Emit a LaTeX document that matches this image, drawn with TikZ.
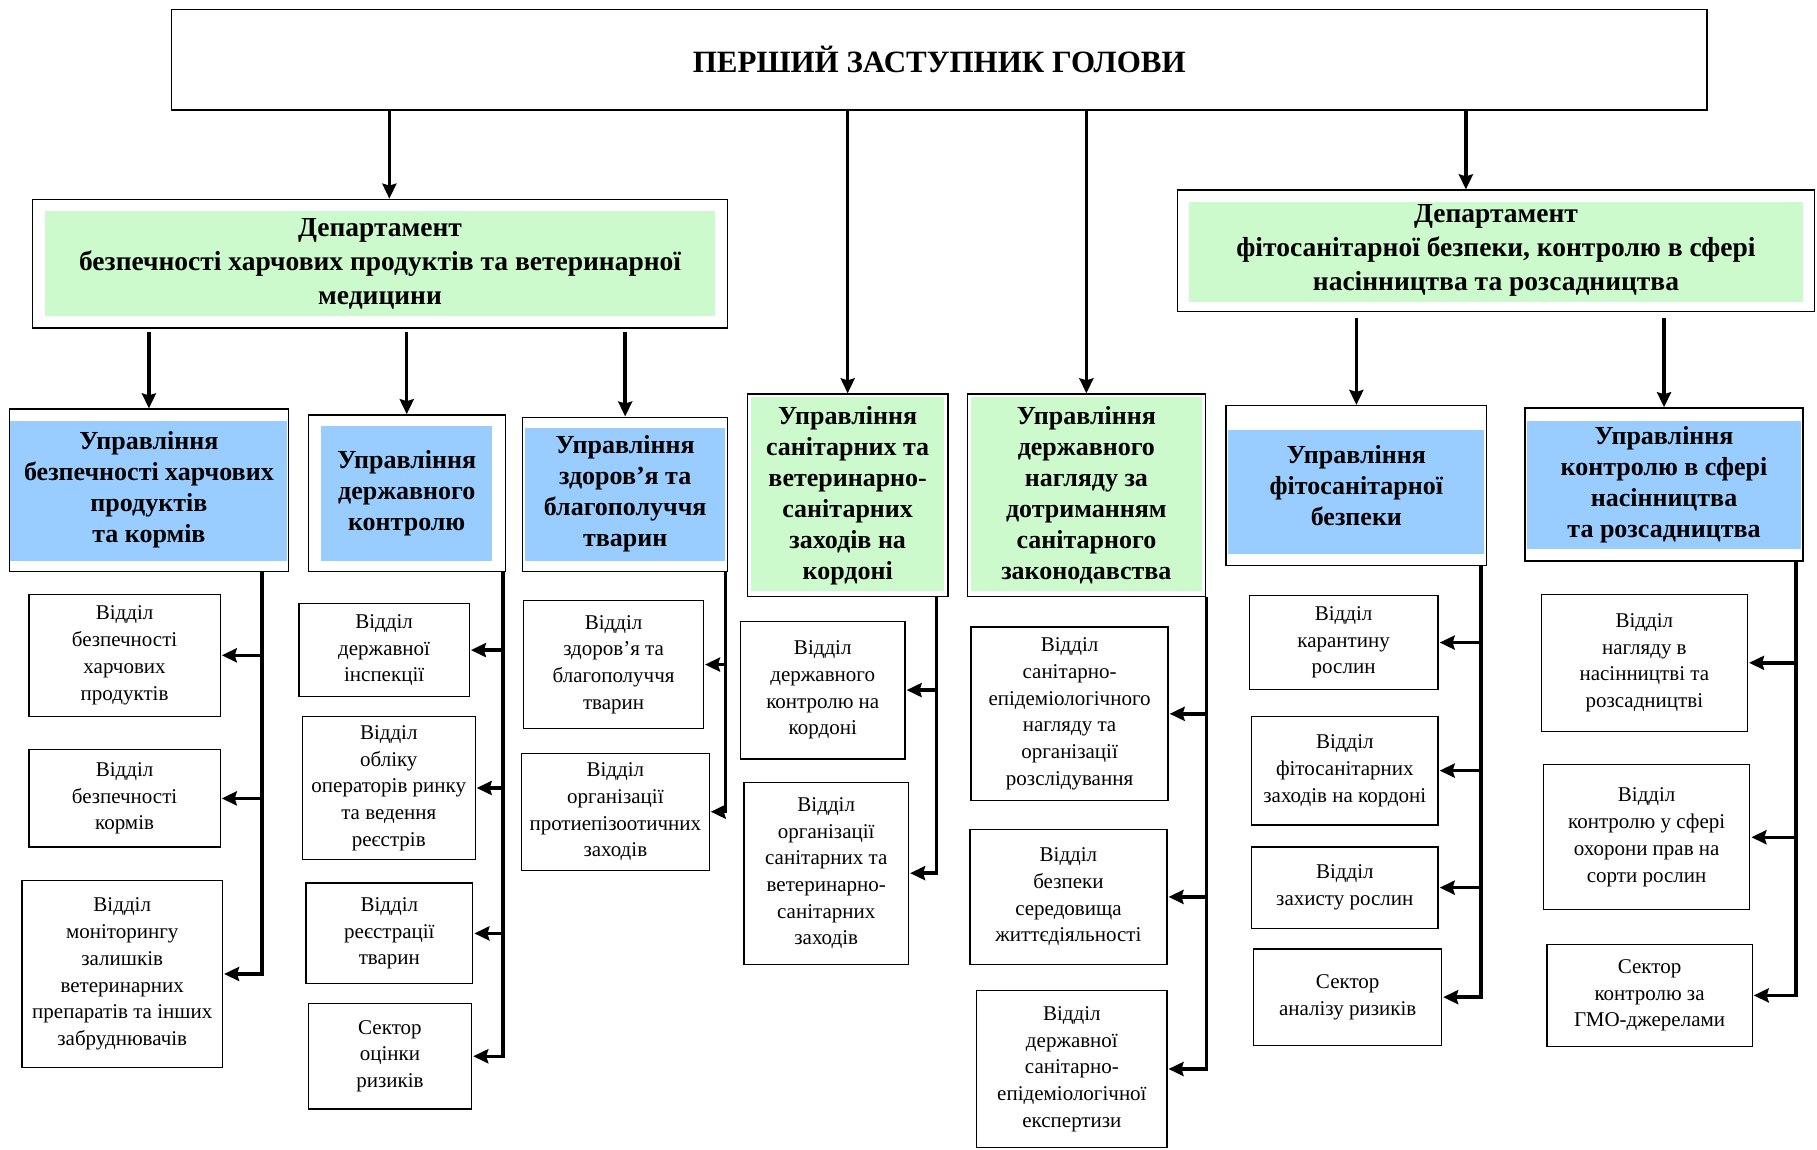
\documentclass[tikz,border=0pt]{standalone}
\usepackage{fontspec}
\setmainfont{Liberation Serif}
\usetikzlibrary{arrows.meta}
\newcommand\pu{1.1588pt}
\newcommand\zastfont{\bfseries\fontsize{31}{34}\selectfont}
\newcommand\depfont{\bfseries\fontsize{27.5}{34}\selectfont}
\newcommand\uprfont{\bfseries\fontsize{26}{31}\selectfont}
\newcommand\vidfont{\fontsize{21}{26.7}\selectfont}
\definecolor{grn}{RGB}{204,250,204}
\definecolor{blu}{RGB}{153,204,255}
\tikzset{
  hdr/.style n args={4}{draw, line width=1.3pt, align=center, inner sep=2pt,
    path picture={\fill[fill=#1] ([shift={(#2,#3)}]path picture bounding box.north west)
      rectangle ([shift={(-#2,-#4)}]path picture bounding box.south east);}},
  vid/.style={draw, line width=1.2pt, align=center, inner sep=2pt, font=\vidfont},
  sz/.style 2 args={minimum width=#1*\pu, minimum height=#2*\pu},
  arr/.style={line width=3.4pt, -{Stealth[length=15pt,width=14pt,inset=2pt]}},
}
\begin{document}
\begin{tikzpicture}[x=\pu, y=-\pu]
\useasboundingbox (0,0) rectangle (1568,992.4);
\node[draw, line width=1.4pt, sz={1325}{87}, font=\zastfont] (zast) at (810.5,51.5) {ПЕРШИЙ ЗАСТУПНИК ГОЛОВИ};
% departments
\node[hdr={grn}{11}{10}{10}, sz={600}{111}, font=\depfont] (dep1) at (328,227.5)
  {Департамент\\безпечності харчових продуктів та ветеринарної\\медицини};
\node[hdr={grn}{10}{10}{8}, sz={550}{105}, font=\depfont] (dep2) at (1291,216.5)
  {Департамент\\фітосанітарної безпеки, контролю в сфері\\насінництва та розсадництва};
% upravlinnia
\foreach \n/\cx/\cy/\w/\h/\col/\sd/\tp/\bt/\txt in {
  upr1/128.5/423/241/140/blu/1/10/9/{Управління\\безпечності харчових\\продуктів\\та кормів},
  upr2/351/425.5/170/135/blu/11/10/9/{Управління\\державного\\контролю},
  upr3/539.5/426.5/177/133/blu/2/9/9/{Управління\\здоров'я та\\благополуччя\\тварин},
  upr4/731.5/427.5/173/175/grn/3/3/5/{Управління\\санітарних та\\ветеринарно-\\санітарних\\заходів на\\кордоні},
  upr5/937.5/427.5/205/175/grn/3/3/5/{Управління\\державного\\нагляду за\\дотриманням\\санітарного\\законодавства},
  upr6/1170.5/419/225/138/blu/2/21/10/{Управління\\фітосанітарної\\безпеки},
  upr7/1436/418/240/132/blu/2/11/10/{Управління\\контролю в сфері\\насінництва\\та розсадництва}}
  \node[hdr={\col}{\sd}{\tp}{\bt}, sz={\w}{\h}, font=\uprfont] (\n) at (\cx,\cy) {\txt};
% viddily
\foreach \n/\cx/\cy/\w/\h/\txt in {
  v11/107.5/565.5/165/105/{Відділ\\безпечності\\харчових\\продуктів},
  v12/107.5/689/165/84/{Відділ\\безпечності\\кормів},
  v13/105.5/840.5/173/161/{Відділ\\моніторингу\\залишків\\ветеринарних\\препаратів та інших\\забруднювачів},
  v21/331.5/561/147/80/{Відділ\\державної\\інспекції},
  v22/335.5/680/149/124/{Відділ\\обліку\\операторів ринку\\та ведення\\реєстрів},
  v23/336/805.5/144/87/{Відділ\\реєстрації\\тварин},
  v24/336.5/911.5/141/91/{Сектор\\оцінки\\ризиків},
  v31/529.5/573.5/155/111/{Відділ\\здоров’я та\\благополуччя\\тварин},
  v32/531/700.5/162/101/{Відділ\\організації\\протиепізоотичних\\заходів},
  v41/710/595.5/142/119/{Відділ\\державного\\контролю на\\кордоні},
  v42/713/753.5/142/157/{Відділ\\організації\\санітарних та\\ветеринарно-\\санітарних\\заходів},
  v51/923/616/170/150/{Відділ\\санітарно-\\епідеміологічного\\нагляду та\\організації\\розслідування},
  v52/922/774/170/116/{Відділ\\безпеки\\середовища\\життєдіяльності},
  v53/925/922.5/164/135/{Відділ\\державної\\санітарно-\\епідеміологічної\\експертизи},
  v61/1159.5/554.5/163/81/{Відділ\\карантину\\рослин},
  v62/1160.5/665/161/94/{Відділ\\фітосанітарних\\заходів на кордоні},
  v63/1160.5/766/161/70/{Відділ\\захисту рослин},
  v64/1163/860.5/162/83/{Сектор\\аналізу ризиків},
  v71/1419/572/178/118/{Відділ\\нагляду в\\насінництві та\\розсадництві},
  v72/1421/722.5/178/125/{Відділ\\контролю у сфері\\охорони прав на\\сорти рослин},
  v73/1423.5/859/177/88/{Сектор\\контролю за\\ГМО-джерелами}}
  \node[vid, sz={\w}{\h}] (\n) at (\cx,\cy) {\txt};
% arrows
\coordinate (a1) at ([shift={(8,0)}]dep1.north);
\coordinate (a2) at ([shift={(-26,0)}]dep2.north);
\draw[arr] (zast.south -| a1) -- (a1);
\draw[arr] (zast.south -| a2) -- (a2);
\foreach \n in {upr4,upr5} \draw[arr] (zast.south -| \n.north) -- (\n.north);
\foreach \n in {upr1,upr2,upr3} \draw[arr, shorten <=3pt] (dep1.south -| \n.north) -- (\n.north);
\foreach \n in {upr6,upr7} \draw[arr, shorten <=6pt] (dep2.south -| \n.north) -- (\n.north);
\foreach \up/\bx/\vs in {upr1/226/{v11,v12,v13}, upr2/434/{v21,v22,v23,v24},
    upr3/626/{v31,v32}, upr4/808/{v41,v42}, upr5/1041/{v51,v52,v53},
    upr6/1278/{v61,v62,v63,v64}, upr7/1550/{v71,v72,v73}}{
  \coordinate (bar) at (\bx,0);
  \foreach \v in \vs \draw[arr, shorten >=1pt] (\up.south -| bar) |- (\v);
}
\end{tikzpicture}
\end{document}
